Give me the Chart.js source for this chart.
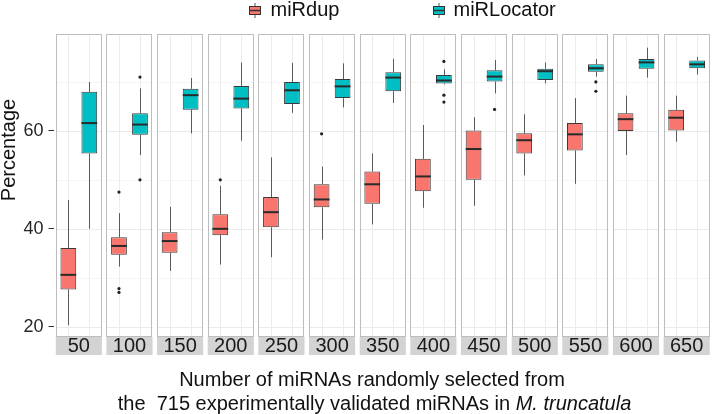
<!DOCTYPE html>
<html>
<head>
<meta charset="utf-8">
<script src="https://cdn.jsdelivr.net/npm/chart.js@4.4.1/dist/chart.umd.min.js"></script>
<style>
  html, body { margin: 0; padding: 0; background: #fff; }
  #wrap { width: 712px; height: 414px; }
</style>
</head>
<body>
<div id="wrap"><canvas id="boxChart" width="712" height="414"></canvas></div>
<script>
// --- DATA ---

const sampleSizes = ['50', '100', '150', '200', '250', '300', '350', '400', '450', '500', '550', '600', '650']
const yTicks = [20, 40, 60]
const yMinorTicks = [30, 50, 70]

const miRdupMin = [20.3, 32.3, 31.4, 32.7, 34.2, 37.8, 40.9, 44.3, 44.7, 50.9, 49.2, 55.1, 57.8]
const miRdupQ1 = [27.6, 34.7, 35.1, 38.7, 40.3, 44.4, 45.1, 47.7, 50.0, 55.4, 56.0, 60.0, 60.1]
const miRdupMedian = [30.6, 36.5, 37.5, 40.0, 43.4, 46.0, 49.1, 50.7, 56.3, 58.1, 59.3, 62.4, 62.7]
const miRdupQ3 = [36.1, 38.3, 39.3, 43.0, 46.5, 49.1, 51.7, 54.3, 60.1, 59.5, 61.6, 63.6, 64.3]
const miRdupMax = [45.9, 43.2, 44.5, 48.8, 54.6, 52.7, 55.4, 61.2, 62.8, 63.4, 66.7, 67.2, 67.2]
const miRdupOutliers = [[], [47.5, 27.8, 27.0], [], [50.0], [], [59.4], [], [], [], [], [], [], []]

const miRLocatorMin = [40.0, 55.1, 59.5, 58.0, 63.7, 64.8, 65.7, 69.5, 67.7, 69.7, 71.1, 70.9, 71.5]
const miRLocatorQ1 = [55.4, 59.2, 64.3, 64.6, 65.5, 66.7, 68.1, 69.7, 70.1, 70.4, 72.1, 72.7, 72.8]
const miRLocatorMedian = [61.6, 61.3, 67.3, 66.6, 68.3, 69.1, 70.9, 70.3, 71.1, 72.2, 72.8, 74.0, 73.6]
const miRLocatorQ3 = [68.0, 63.6, 68.6, 69.2, 70.0, 70.6, 72.0, 71.4, 72.4, 72.7, 73.6, 74.7, 74.4]
const miRLocatorMax = [70.0, 68.7, 70.8, 74.0, 73.9, 73.8, 74.7, 72.6, 74.5, 74.0, 74.7, 77.0, 75.1]
const miRLocatorOutliers = [[], [71.0, 50.0], [], [], [], [], [], [74.2, 67.3, 65.9], [64.4], [], [70.0, 68.1], [], []]

// --- STYLE ---

const FONT = '"Liberation Sans", Arial, Helvetica, sans-serif'
const PANEL_FRAC = 0.911
const STRIP_HEIGHT = 18

const series = [
    { label: 'miRdup', color: '#F8766D', min: miRdupMin, q1: miRdupQ1, med: miRdupMedian, q3: miRdupQ3, max: miRdupMax, out: miRdupOutliers },
    { label: 'miRLocator', color: '#00BFC4', min: miRLocatorMin, q1: miRLocatorQ1, med: miRLocatorMedian, q3: miRLocatorQ3, max: miRLocatorMax, out: miRLocatorOutliers }
]

function panelBounds(chart){
    const xs = chart.scales.x
    const band = (xs.right - xs.left) / sampleSizes.length
    return sampleSizes.map((s, i) => {
        const c = xs.getPixelForValue(i)
        return { left: c - band * PANEL_FRAC / 2, right: c + band * PANEL_FRAC / 2, center: c }
    })
}

function hLine(ctx, x1, x2, y){
    ctx.beginPath()
    ctx.moveTo(x1, y)
    ctx.lineTo(x2, y)
    ctx.stroke()
}

function vLine(ctx, x, y1, y2){
    ctx.beginPath()
    ctx.moveTo(x, y1)
    ctx.lineTo(x, y2)
    ctx.stroke()
}

function drawKey(ctx, x, color){
    // small boxplot glyph used in the legend
    ctx.strokeStyle = '#555'
    ctx.lineWidth = 1
    vLine(ctx, x + 6, 3, 18)
    ctx.fillStyle = color
    ctx.fillRect(x, 6, 12, 9)
    ctx.strokeStyle = '#333'
    ctx.strokeRect(x + 0.5, 6.5, 11, 8)
    ctx.lineWidth = 1.5
    hLine(ctx, x, x + 12, 10.5)
}

const facetPlugin = {
    id: 'facets',
    beforeDraw(chart){
        const { ctx, chartArea: a, scales: { y } } = chart
        ctx.save()
        ctx.fillStyle = '#fff'
        ctx.fillRect(0, 0, chart.width, chart.height)

        panelBounds(chart).forEach(p => {
            ctx.strokeStyle = '#f5f5f5'
            ctx.lineWidth = 1
            yMinorTicks.forEach(v => hLine(ctx, p.left, p.right, Math.round(y.getPixelForValue(v)) + 0.5))
            ctx.strokeStyle = '#ebebeb'
            yTicks.forEach(v => hLine(ctx, p.left, p.right, Math.round(y.getPixelForValue(v)) + 0.5))
            ctx.fillStyle = '#d3d3d3'
            ctx.fillRect(p.left, a.bottom, p.right - p.left, STRIP_HEIGHT)
        })

        ctx.strokeStyle = '#ececec'
        series.forEach((s, d) => {
            chart.getDatasetMeta(d).data.forEach(el => {
                vLine(ctx, Math.round(el.x) + 0.5, a.top, a.bottom)
            })
        })
        ctx.restore()
    },
    afterDatasetsDraw(chart){
        const { ctx, chartArea: a, scales: { y } } = chart
        ctx.save()
        series.forEach((s, d) => {
            chart.getDatasetMeta(d).data.forEach((el, i) => {
                const x = Math.round(el.x) + 0.5
                const half = el.width / 2

                // whiskers
                ctx.strokeStyle = '#5a5a5a'
                ctx.lineWidth = 1
                vLine(ctx, x, y.getPixelForValue(s.q3[i]), y.getPixelForValue(s.max[i]))
                vLine(ctx, x, y.getPixelForValue(s.q1[i]), y.getPixelForValue(s.min[i]))

                // median
                ctx.strokeStyle = '#2a2a2a'
                ctx.lineWidth = 2
                hLine(ctx, el.x - half, el.x + half, y.getPixelForValue(s.med[i]))

                // outliers
                ctx.fillStyle = '#222'
                s.out[i].forEach(v => {
                    ctx.beginPath()
                    ctx.arc(el.x, y.getPixelForValue(v), 1.6, 0, Math.PI * 2)
                    ctx.fill()
                })
            })
        })

        ctx.strokeStyle = '#bdbdbd'
        ctx.lineWidth = 1
        panelBounds(chart).forEach(p => {
            ctx.strokeRect(Math.round(p.left) + 0.5, a.top + 0.5, Math.round(p.right - p.left) - 1, a.bottom - a.top - 1)
        })
        ctx.restore()
    },
    afterDraw(chart){
        const { ctx } = chart
        ctx.save()

        // legend
        drawKey(ctx, 249, series[0].color)
        drawKey(ctx, 433, series[1].color)
        ctx.fillStyle = '#111'
        ctx.font = '20px ' + FONT
        ctx.textBaseline = 'alphabetic'
        ctx.textAlign = 'left'
        ctx.fillText(series[0].label, 270.5, 15.5)
        ctx.fillText(series[1].label, 453.5, 15.5)

        // x axis title
        ctx.textAlign = 'center'
        ctx.fillText('Number of miRNAs randomly selected from', 372, 386)
        const plain = 'the  715 experimentally validated miRNAs in '
        const ital = 'M. truncatula'
        ctx.font = '20px ' + FONT
        const w1 = ctx.measureText(plain).width
        ctx.font = 'italic 20px ' + FONT
        const w2 = ctx.measureText(ital).width
        const start = 374.5 - (w1 + w2) / 2
        ctx.textAlign = 'left'
        ctx.font = '20px ' + FONT
        ctx.fillText(plain, start, 410)
        ctx.font = 'italic 20px ' + FONT
        ctx.fillText(ital, start + w1, 410)

        // y axis title
        ctx.font = '20px ' + FONT
        ctx.textAlign = 'center'
        ctx.translate(15, 150)
        ctx.rotate(-Math.PI / 2)
        ctx.fillText('Percentage', 0, 0)
        ctx.restore()
    }
}

function initChart(){
    const ctx = document.getElementById('boxChart').getContext('2d')

    new Chart(ctx, {
        type: 'bar',
        data: {
            labels: sampleSizes,
            datasets: series.map(s => ({
                label: s.label,
                data: s.q1.map((v, i) => [v, s.q3[i]]),
                backgroundColor: s.color,
                borderColor: '#3a3a3a',
                borderWidth: 1,
                borderSkipped: false,
                categoryPercentage: 0.829,
                barPercentage: 0.75
            }))
        },
        options: {
            responsive: false,
            animation: false,
            devicePixelRatio: 1,
            layout: { padding: { top: 34, right: -2, bottom: 0, left: 0 } },
            plugins: {
                legend: { display: false },
                tooltip: { enabled: false }
            },
            scales: {
                x: {
                    offset: true,
                    grid: { display: false, drawTicks: false },
                    border: { display: false },
                    ticks: {
                        padding: -1,
                        color: '#1a1a1a',
                        font: { family: FONT, size: 20, lineHeight: 1 },
                        maxRotation: 0,
                        autoSkip: false
                    },
                    afterFit(scale){ scale.height = 77 }
                },
                y: {
                    min: 17.9,
                    max: 79.8,
                    grid: { drawOnChartArea: false, drawTicks: true, tickLength: 5, color: '#333' },
                    border: { display: false },
                    ticks: {
                        padding: 5,
                        color: '#262626',
                        font: { family: FONT, size: 18 }
                    },
                    afterBuildTicks(scale){
                        scale.ticks = yTicks.map(v => ({ value: v }))
                    },
                    afterFit(scale){ scale.width = 53.5 }
                }
            }
        },
        plugins: [facetPlugin]
    })
}

initChart()
</script>
</body>
</html>
